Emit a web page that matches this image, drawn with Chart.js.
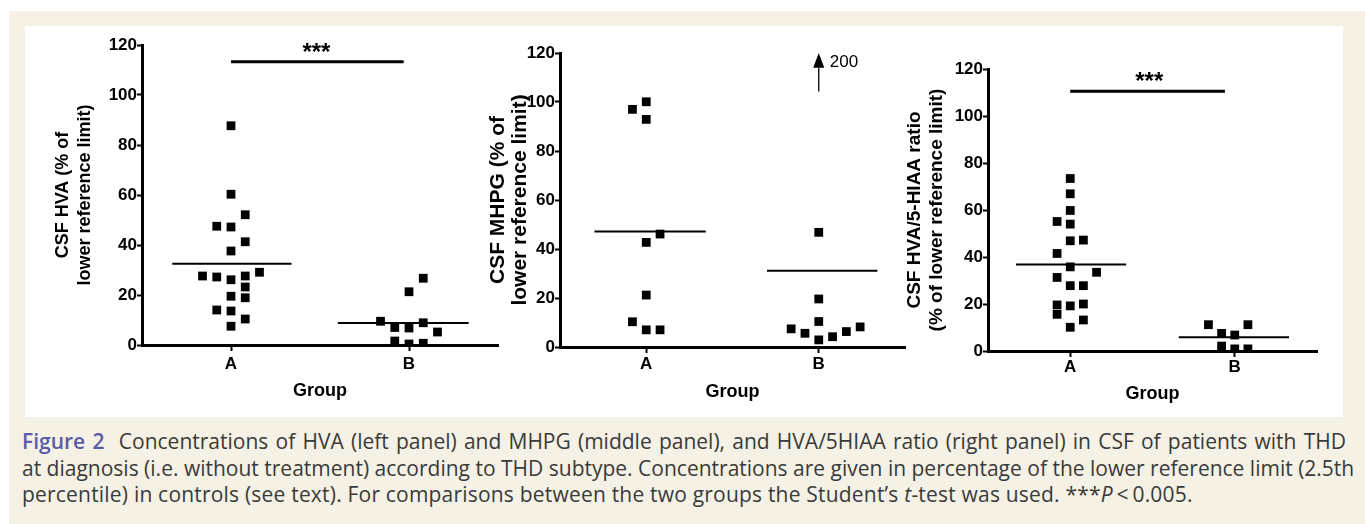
<!DOCTYPE html>
<html>
<head>
<meta charset="utf-8">
<script src="https://cdn.jsdelivr.net/npm/chart.js@4.4.1/dist/chart.umd.min.js"></script>
<style>
  html, body { margin: 0; padding: 0; background: #fff; }
  body { width: 1365px; height: 524px; position: relative; overflow: hidden; }
  #frame { position: absolute; left: 9px; top: 11px; right: 0; bottom: 0; background: #f5f1e4; }
  #panel { position: absolute; left: 25px; top: 26px; width: 1318px; height: 391px; background: #fff; }
  canvas { position: absolute; }
  #caption { position: absolute; left: 22px; top: 428px; width: 1324px;
    font-family: 'Open Sans', sans-serif; font-size: 21px; line-height: 26.5px; color: #3a3a3a; }
  #caption div { white-space: nowrap; }
  .j { text-align: justify; text-align-last: justify; }
  .last { letter-spacing: 0.2px; }
  .fig { color: #5a5ca8; font-weight: 600; }
</style>
</head>
<body>
<div id="frame"></div>
<div id="panel"></div>
<canvas id="hva" width="495" height="390" style="left:25px;top:26px"></canvas>
<canvas id="mhpg" width="450" height="390" style="left:470px;top:26px"></canvas>
<canvas id="ratio" width="463" height="390" style="left:880px;top:26px"></canvas>
<div id="caption">
  <div class="j"><span class="fig">Figure 2</span>&nbsp; Concentrations of HVA (left panel) and MHPG (middle panel), and HVA/5HIAA ratio (right panel) in CSF of patients with THD</div>
  <div class="j">at diagnosis (i.e. without treatment) according to THD subtype. Concentrations are given in percentage of the lower reference limit (2.5th</div>
  <div class="last">percentile) in controls (see text). For comparisons between the two groups the Student’s <i>t</i>-test was used. ***<i>P</i>&thinsp;&lt;&thinsp;0.005.</div>
</div>
<script>
const groups = ['A', 'B'];
const yTicks = [0, 20, 40, 60, 80, 100, 120];

// left panel: CSF HVA
const hvaA = [87.7, 60.3, 52.1, 47.5, 47.2, 41.3, 37.6, 27.6, 27.2, 26.1, 27.6, 29.1, 23.2, 19.5, 18.9, 14.0, 13.6, 10.4, 7.5];
const hvaAcol = [0, 0, 1, -1, 0, 1, 0, -2, -1, 0, 1, 2, 1, 0, 1, -1, 0, 1, 0];
const hvaB = [26.7, 21.3, 9.5, 7.0, 6.8, 8.9, 5.2, 1.6, 0.4, 0.7];
const hvaBcol = [1, 0, -2, -1, 0, 1, 2, -1, 0, 1];
const hvaSig = 113.3;

// middle panel: CSF MHPG (one B value is off the scale)
const mhpgA = [97.0, 100.1, 92.9, 46.1, 42.7, 21.2, 10.3, 7.0, 7.0];
const mhpgAcol = [-1, 0, 0, 1, 0, 0, -1, 0, 1];
const mhpgB = [200, 46.8, 19.6, 10.4, 7.4, 5.6, 2.9, 4.2, 6.3, 8.2];
const mhpgBcol = [0, 0, 0, 0, -2, -1, 0, 1, 2, 3];

// right panel: HVA/5-HIAA ratio
const ratioA = [73.4, 66.9, 59.8, 55.1, 54.0, 46.9, 47.2, 41.5, 35.8, 33.5, 31.3, 27.8, 27.8, 19.6, 19.2, 20.0, 15.6, 13.2, 10.1];
const ratioAcol = [0, 0, 0, -1, 0, 0, 1, -1, 0, 2, -1, 0, 1, -1, 0, 1, -1, 1, 0];
const ratioB = [11.2, 11.2, 7.5, 6.8, 2.1, 0.9, 0.9];
const ratioBcol = [-2, 1, -1, 0, -1, 0, 1];
const ratioSig = 110.5;

const STEP = 0.08; // sideways spacing of the dots

Chart.defaults.font.family = '"Liberation Sans", Arial, Helvetica, sans-serif';
Chart.defaults.color = '#000';

function mean(a) { return a.reduce((s, v) => s + v, 0) / a.length; }

function dots(values, cols, g) {
  return values.map((v, i) => ({ x: g + cols[i] * STEP, y: v }));
}

// stars over the significance bar, arrows for values above the axis
const extras = {
  id: 'extras',
  afterDatasetsDraw(chart, args, opts) {
    const ctx = chart.ctx, xs = chart.scales.x, ys = chart.scales.y;
    ctx.save();
    ctx.fillStyle = '#000';
    ctx.strokeStyle = '#000';
    if (opts.sig != null) {
      const x = xs.getPixelForValue(0.48);
      const y = ys.getPixelForValue(opts.sig);
      ctx.font = 'bold 24px "Liberation Sans", Arial, sans-serif';
      ctx.textAlign = 'center';
      ctx.textBaseline = 'alphabetic';
      ctx.fillText('***', x, y - 2);
    }
    (opts.offscale || []).forEach(p => {
      const x = xs.getPixelForValue(p.x);
      const tip = ys.getPixelForValue(ys.max);
      const base = ys.getPixelForValue(114);
      const tail = ys.getPixelForValue(104.3);
      ctx.lineWidth = 1.3;
      ctx.beginPath();
      ctx.moveTo(x, tail);
      ctx.lineTo(x, base);
      ctx.stroke();
      ctx.beginPath();
      ctx.moveTo(x, tip);
      ctx.lineTo(x - 5.5, base);
      ctx.lineTo(x + 5.5, base);
      ctx.closePath();
      ctx.fill();
      ctx.font = '17px "Liberation Sans", Arial, sans-serif';
      ctx.textAlign = 'left';
      ctx.textBaseline = 'middle';
      ctx.fillText(String(p.y), x + 11, ys.getPixelForValue(116));
    });
    ctx.restore();
  }
};

function makePanel(id, p) {
  const ds = [];
  const pointStyle = { showLine: false, pointStyle: 'rect', pointRadius: 6.2, pointBorderWidth: 0,
                       pointBackgroundColor: '#000', pointBorderColor: '#000' };
  ds.push(Object.assign({ data: dots(p.a, p.acol, 0) }, pointStyle));
  ds.push(Object.assign({ data: dots(p.b, p.bcol, 1) }, pointStyle));
  [[p.a, 0], [p.b, 1]].forEach(([vals, g], k) => {
    const m = mean(vals);
    const span = p.spans[k];
    ds.push({ data: [{ x: g + span[0], y: m }, { x: g + span[1], y: m }], showLine: true,
              borderColor: '#000', borderWidth: 2, pointRadius: 0 });
  });
  if (p.sig != null) {
    ds.push({ data: [{ x: 0, y: p.sig }, { x: p.sigTo, y: p.sig }], showLine: true,
              borderColor: '#000', borderWidth: 3, pointRadius: 0 });
  }
  const offscale = dots(p.b, p.bcol, 1).filter(d => d.y > 120)
    .concat(dots(p.a, p.acol, 0).filter(d => d.y > 120));

  return new Chart(document.getElementById(id), {
    type: 'scatter',
    data: { datasets: ds },
    plugins: [extras],
    options: {
      responsive: false,
      animation: false,
      layout: { padding: p.pad },
      plugins: {
        legend: { display: false },
        tooltip: { enabled: false },
        extras: { sig: p.sig, offscale: offscale }
      },
      scales: {
        x: {
          type: 'linear', min: -0.5, max: 1.5,
          afterBuildTicks: s => { s.ticks = groups.map((g, i) => ({ value: i })); },
          afterFit: s => { s.height = p.xh; },
          border: { display: true, color: '#000', width: 3, z: 1 },
          grid: { drawOnChartArea: false, tickLength: 6, tickWidth: 2, tickColor: '#000' },
          ticks: { callback: v => groups[v], color: '#000', padding: p.xtp, maxRotation: 0,
                   font: { size: 17, weight: 'bold' } },
          title: { display: true, text: 'Group', color: '#000', padding: { top: 0, bottom: 3 },
                   font: { size: 18, weight: 'bold', lineHeight: 22 / 18 } }
        },
        y: {
          min: 0, max: 120,
          afterBuildTicks: s => { s.ticks = yTicks.map(v => ({ value: v })); },
          afterFit: s => { s.width = p.yw; },
          border: { display: true, color: '#000', width: 3, z: 1 },
          grid: { drawOnChartArea: false, tickLength: 5, tickWidth: 2, tickColor: '#000' },
          ticks: { color: '#000', padding: 0, font: { size: 17, weight: 'bold' } },
          title: { display: true, text: p.ytitle, color: '#000', padding: 0,
                   font: { size: p.yts, weight: 'bold', lineHeight: 22 / p.yts } }
        }
      }
    }
  });
}

makePanel('hva', {
  a: hvaA, acol: hvaAcol, b: hvaB, bcol: hvaBcol,
  spans: [[-0.33, 0.34], [-0.40, 0.335]], sig: hvaSig, sigTo: 0.97,
  ytitle: ['CSF HVA (% of', 'lower reference limit)'], yts: 18,
  pad: { left: 27, right: 22, top: 19, bottom: 11 }, yw: 90, xh: 60, xtp: 3
});

makePanel('mhpg', {
  a: mhpgA, acol: mhpgAcol, b: mhpgB, bcol: mhpgBcol,
  spans: [[-0.30, 0.345], [-0.30, 0.34]], sig: null,
  ytitle: ['CSF MHPG (% of', 'lower reference limit)'], yts: 21,
  pad: { left: 17, right: 15, top: 27, bottom: 10 }, yw: 73, xh: 59, xtp: 1
});

makePanel('ratio', {
  a: ratioA, acol: ratioAcol, b: ratioB, bcol: ratioBcol,
  spans: [[-0.33, 0.34], [-0.34, 0.33]], sig: ratioSig, sigTo: 0.94,
  ytitle: ['CSF HVA/5-HIAA ratio', '(% of lower reference limit)'], yts: 19,
  pad: { left: 24, right: 26, top: 43, bottom: 8 }, yw: 84, xh: 57, xtp: 0
});
</script>
</body>
</html>
